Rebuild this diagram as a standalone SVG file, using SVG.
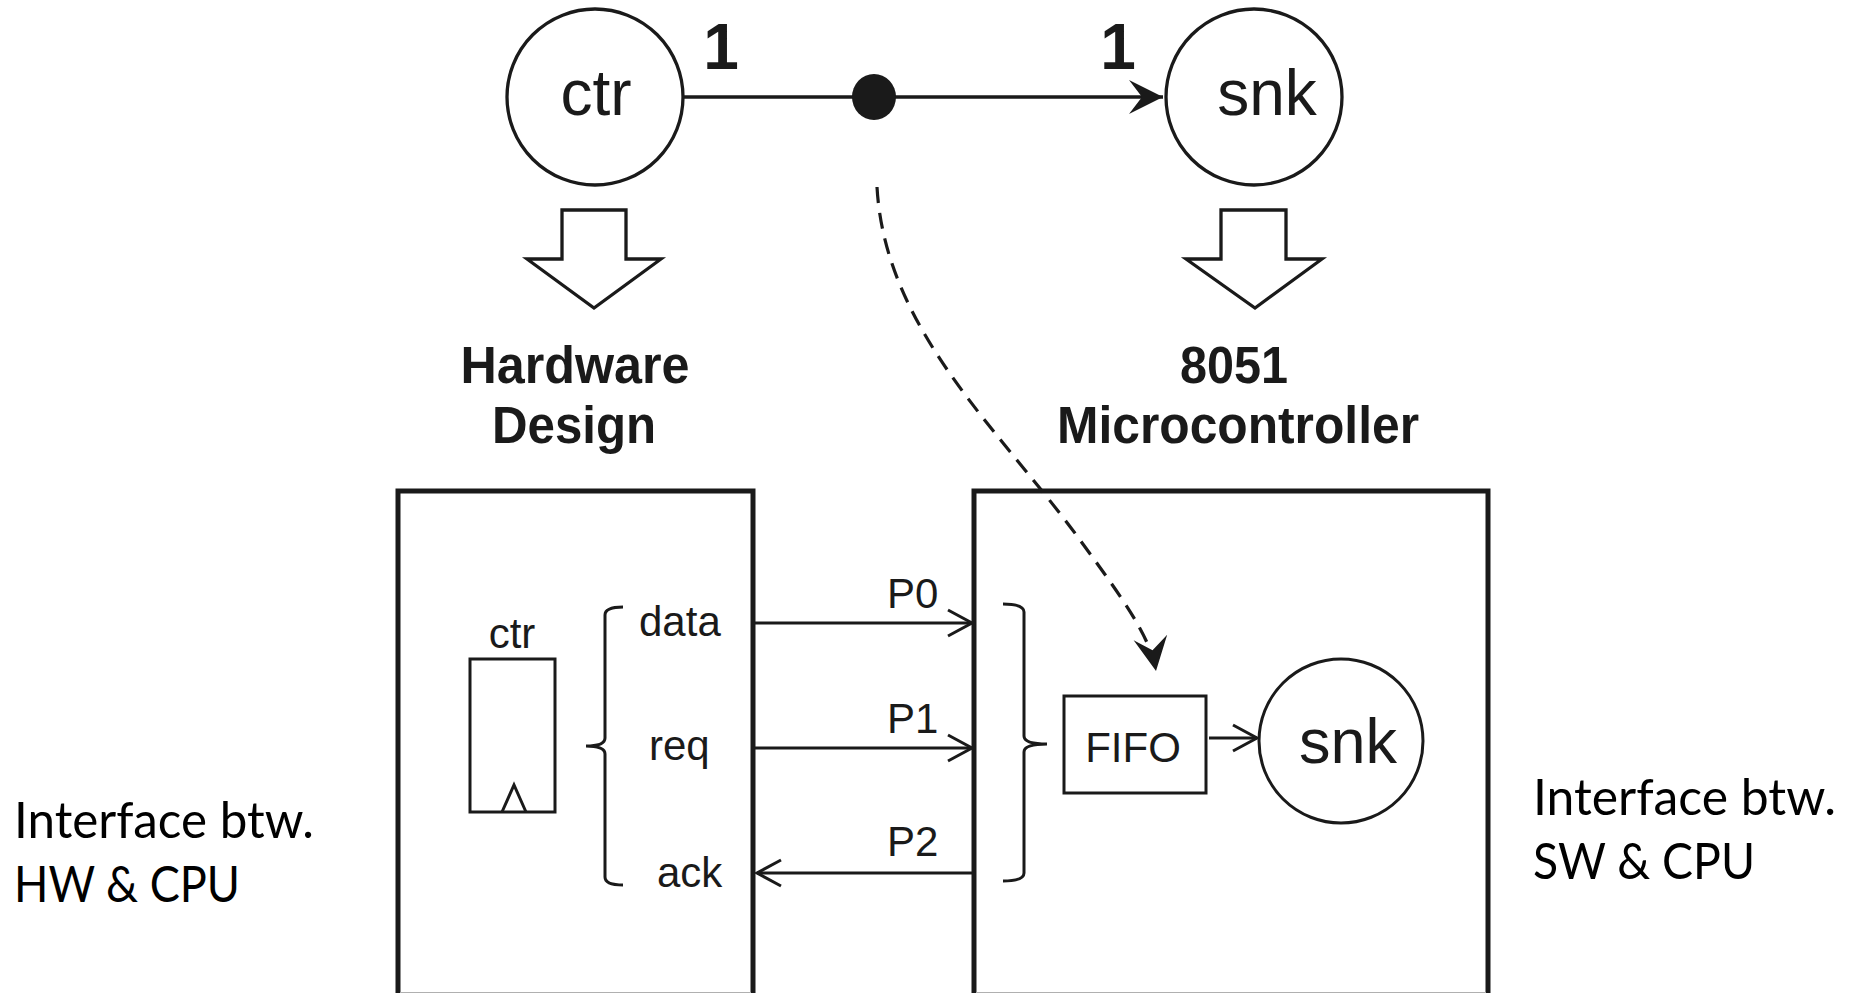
<svg xmlns="http://www.w3.org/2000/svg" width="1851" height="993" viewBox="0 0 1851 993">
<style>
  .ln { fill: none; stroke: #1a1a1a; stroke-width: 3.3; }
  .thin { fill: none; stroke: #1a1a1a; stroke-width: 3; }
  .box { fill: none; stroke: #1a1a1a; stroke-width: 5; stroke-linejoin: miter; }
  .hollow { fill: #fff; stroke: #1a1a1a; stroke-width: 3.3; stroke-linejoin: miter; }
  .t { font-family: "Liberation Sans", Arial, Helvetica, sans-serif; fill: #1a1a1a; }
  .big { font-size: 64px; text-anchor: middle; }
  .bold { font-weight: bold; }
  .lab { font-size: 51px; font-weight: bold; text-anchor: middle; }
  .sm { font-size: 42px; }
  .note { font-family: Lato, "Liberation Sans", Arial, sans-serif; font-size: 50px; fill: #000; }
  .dash { fill: none; stroke: #1a1a1a; stroke-width: 3.2; stroke-dasharray: 16 10; }
</style>
<defs>
  <marker id="openArrow" viewBox="-30 -16 34 32" refX="0" refY="0" markerWidth="34" markerHeight="32" markerUnits="userSpaceOnUse" orient="auto">
    <path d="M -24 -13 L 0 0 L -24 13" fill="none" stroke="#1a1a1a" stroke-width="3"/>
  </marker>
  <marker id="solidArrow" viewBox="-36 -19 38 38" refX="0" refY="0" markerWidth="38" markerHeight="38" markerUnits="userSpaceOnUse" orient="auto">
    <path d="M 0 0 L -34 -17 L -21 0 L -34 17 Z" fill="#1a1a1a"/>
  </marker>
</defs>

<g id="connectors">
  <line id="edge-ctr-snk" class="ln" x1="683" y1="97" x2="1163" y2="97" marker-end="url(#solidArrow)"/>
  <path id="edge-token-fifo" class="dash" d="M 877 187 C 885 330, 1000 430, 1080 540 C 1120 595, 1150 635, 1156 671" marker-end="url(#solidArrow)"/>
  <line id="wire-data" class="thin" x1="755" y1="623" x2="972" y2="623" marker-end="url(#openArrow)"/>
  <line id="wire-req" class="thin" x1="755" y1="748" x2="972" y2="748" marker-end="url(#openArrow)"/>
  <line id="wire-ack" class="thin" x1="972" y1="873" x2="757" y2="873" marker-end="url(#openArrow)"/>
  <line id="fifo-snk" class="thin" x1="1209" y1="738" x2="1257" y2="738" marker-end="url(#openArrow)"/>
</g>

<g id="node-ctr">
  <circle class="ln" cx="595" cy="97" r="88"/>
  <text class="t big" x="596" y="115">ctr</text>
</g>
<g id="node-snk">
  <circle class="ln" cx="1254" cy="97" r="88"/>
  <text class="t big" x="1267" y="115">snk</text>
</g>
<g id="token">
  <ellipse cx="874" cy="97" rx="22" ry="23" fill="#1a1a1a"/>
</g>
<g id="rates">
  <text class="t big bold" x="721" y="69">1</text>
  <text class="t big bold" x="1118" y="69">1</text>
</g>

<g id="map-hw">
  <polygon class="hollow" points="562,210 626,210 626,259 661,259 594,308 527,259 562,259"/>
  <text class="t lab" x="575" y="383" textLength="229" lengthAdjust="spacingAndGlyphs">Hardware</text>
  <text class="t lab" x="574" y="443" textLength="164" lengthAdjust="spacingAndGlyphs">Design</text>
</g>
<g id="map-mcu">
  <polygon class="hollow" points="1221,210 1286,210 1286,259 1322,259 1255,308 1186,259 1221,259"/>
  <text class="t lab" x="1234" y="383" textLength="108" lengthAdjust="spacingAndGlyphs">8051</text>
  <text class="t lab" x="1238" y="443" textLength="362" lengthAdjust="spacingAndGlyphs">Microcontroller</text>
</g>

<g id="hw-box">
  <path class="box" d="M 398 1000 L 398 491 L 753 491 L 753 1000"/>
  <line x1="400" y1="992.5" x2="751" y2="992.5" stroke="#b0b0b0" stroke-width="1"/>
</g>
<g id="hw-ctr-register">
  <rect class="thin" x="470" y="659" width="85" height="153"/>
  <polyline class="thin" points="502,812 514,785 526,812"/>
  <text class="t sm" x="512" y="648" text-anchor="middle">ctr</text>
</g>
<g id="hw-ports">
  <path class="thin" d="M 623 607 Q 605 607 605 615 L 605 738 Q 605 746 586 746 Q 605 746 605 754 L 605 877 Q 605 885 623 885"/>
  <text class="t sm" x="639" y="636">data</text>
  <text class="t sm" x="649" y="760">req</text>
  <text class="t sm" x="657" y="887">ack</text>
</g>
<g id="port-labels">
  <text class="t sm" x="887" y="608">P0</text>
  <text class="t sm" x="887" y="733">P1</text>
  <text class="t sm" x="887" y="856">P2</text>
</g>

<g id="mcu-box">
  <path class="box" d="M 974 1000 L 974 491 L 1488 491 L 1488 1000"/>
  <line x1="976" y1="992.5" x2="1486" y2="992.5" stroke="#b0b0b0" stroke-width="1"/>
</g>
<g id="mcu-ports">
  <path class="thin" d="M 1003 604 Q 1024 604 1024 612 L 1024 736 Q 1024 744 1047 744 Q 1024 744 1024 752 L 1024 873 Q 1024 881 1003 881"/>
</g>
<g id="mcu-fifo">
  <rect class="thin" x="1064" y="696" width="142" height="97"/>
  <text class="t sm" x="1133" y="762" text-anchor="middle">FIFO</text>
</g>
<g id="mcu-snk">
  <circle class="thin" cx="1341" cy="741" r="82"/>
  <text class="t" x="1348" y="763" font-size="63" text-anchor="middle">snk</text>
</g>

<g id="note-hw">
  <text class="note" x="14" y="838" textLength="300" lengthAdjust="spacingAndGlyphs">Interface btw.</text>
  <text class="note" x="14" y="902" textLength="226" lengthAdjust="spacingAndGlyphs">HW &amp; CPU</text>
</g>
<g id="note-sw">
  <text class="note" x="1533" y="815" textLength="303" lengthAdjust="spacingAndGlyphs">Interface btw.</text>
  <text class="note" x="1533" y="879" textLength="222" lengthAdjust="spacingAndGlyphs">SW &amp; CPU</text>
</g>
</svg>
